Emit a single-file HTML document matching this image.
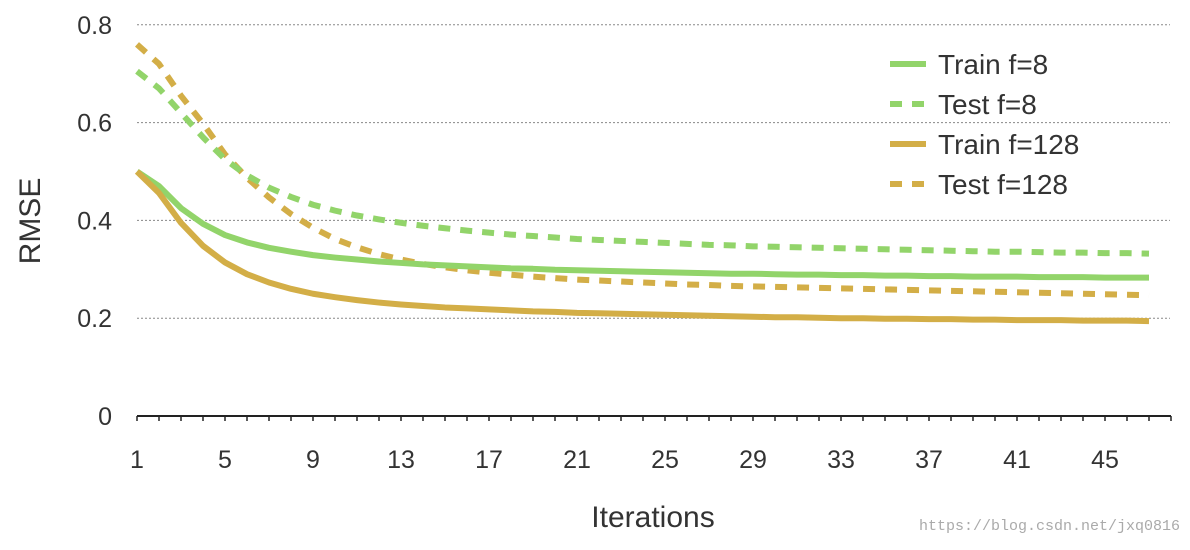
<!DOCTYPE html>
<html><head><meta charset="utf-8"><style>
body{margin:0;background:#fff;width:1190px;height:545px;overflow:hidden;font-family:"Liberation Sans",sans-serif}
svg text{font-family:"Liberation Sans",sans-serif;fill:#333}
</style></head><body>
<svg id="chart" width="1190" height="545" xmlns="http://www.w3.org/2000/svg">
<g id="grid"></g>
<g id="axes"></g>
<g id="series"></g>
<g id="legend"></g>
<text x="0" y="0" transform="translate(40,221) rotate(-90)" text-anchor="middle" font-size="30">RMSE</text>
<text x="653" y="527" text-anchor="middle" font-size="30">Iterations</text>
<text x="1180" y="530" text-anchor="end" font-size="15" style="font-family:'Liberation Mono',monospace;fill:#aaa">https://blog.csdn.net/jxq0816</text>
</svg>
<script>
const trainF8=[0.50,0.47,0.425,0.393,0.37,0.355,0.344,0.336,0.329,0.324,0.32,0.316,0.313,0.31,0.308,0.306,0.304,0.302,0.301,0.299,0.298,0.297,0.296,0.295,0.294,0.293,0.292,0.291,0.291,0.290,0.289,0.289,0.288,0.288,0.287,0.287,0.286,0.286,0.285,0.285,0.285,0.284,0.284,0.284,0.283,0.283,0.283];
const testF8=[0.705,0.67,0.62,0.57,0.525,0.492,0.467,0.448,0.432,0.42,0.41,0.402,0.395,0.389,0.384,0.379,0.375,0.371,0.368,0.365,0.362,0.36,0.358,0.356,0.354,0.352,0.35,0.349,0.347,0.346,0.345,0.344,0.343,0.342,0.341,0.34,0.339,0.338,0.337,0.336,0.336,0.335,0.334,0.334,0.333,0.333,0.332];
const trainF128=[0.50,0.456,0.395,0.348,0.314,0.29,0.273,0.26,0.25,0.243,0.237,0.232,0.228,0.225,0.222,0.22,0.218,0.216,0.214,0.213,0.211,0.21,0.209,0.208,0.207,0.206,0.205,0.204,0.203,0.202,0.202,0.201,0.2,0.2,0.199,0.199,0.198,0.198,0.197,0.197,0.196,0.196,0.196,0.195,0.195,0.195,0.194];
const testF128=[0.76,0.72,0.655,0.598,0.535,0.487,0.447,0.413,0.385,0.362,0.345,0.331,0.32,0.311,0.304,0.298,0.293,0.289,0.285,0.282,0.279,0.277,0.275,0.273,0.271,0.269,0.268,0.266,0.265,0.264,0.263,0.262,0.261,0.26,0.259,0.258,0.257,0.256,0.255,0.254,0.253,0.252,0.251,0.25,0.249,0.248,0.247];
const yTicks=[0,0.2,0.4,0.6,0.8];
const xLabels=[1,5,9,13,17,21,25,29,33,37,41,45];
const seriesNames=["Train f=8","Test f=8","Train f=128","Test f=128"];
const NS="http://www.w3.org/2000/svg";
const X=i=>137+(i-1)*22, Y=v=>416-v*489;
function mk(t,a,p){const e=document.createElementNS(NS,t);for(const k in a)e.setAttribute(k,a[k]);p.appendChild(e);return e;}
const grid=document.getElementById('grid'),axes=document.getElementById('axes'),ser=document.getElementById('series'),leg=document.getElementById('legend');
yTicks.forEach(v=>{
 if(v>0){const l=mk('line',{x1:137,x2:1170,y1:Y(v),y2:Y(v),stroke:'#888','stroke-width':1,'stroke-dasharray':'2,2'},grid);
 
 }
 const t=mk('text',{x:112,y:Y(v)+9,'text-anchor':'end','font-size':25},axes);t.textContent=v===0?'0':v.toFixed(1);
 
 
});
const ax=mk('line',{x1:137,x2:1171,y1:416,y2:416,stroke:'#222','stroke-width':2},axes);


for(let i=1;i<=48;i++){const tk=mk('line',{x1:X(i),x2:X(i),y1:416,y2:421,stroke:'#222','stroke-width':1.5},axes);
 
 }
xLabels.forEach(v=>{const t=mk('text',{x:X(v),y:468,'text-anchor':'middle','font-size':25},axes);t.textContent=v;
 
 });
const data=[trainF8,testF8,trainF128,testF128];
const cols=['#92d46a','#92d46a','#d3ae47','#d3ae47'];
const dash=[null,'12,10',null,'12,10'];
const order=[3,1,0,2];
order.forEach(s=>{
 const pts=data[s].map((v,i)=>X(i+1)+','+Y(v)).join(' ');
 const a={points:pts,fill:'none',stroke:cols[s],'stroke-width':6,'stroke-linejoin':'round'};
 if(dash[s])a['stroke-dasharray']=dash[s];
 const p=mk('polyline',a,ser);
 
 
});
seriesNames.forEach((n,s)=>{
 const y=64+s*40;
 const a={x1:890,x2:926,y1:y,y2:y,stroke:cols[s],'stroke-width':6};
 if(dash[s])a['stroke-dasharray']='12,10';
 const l=mk('line',a,leg);
 
 
 const t=mk('text',{x:938,y:y+10,'font-size':28},leg);t.textContent=n;
 
 
});
</script>
</body></html>
